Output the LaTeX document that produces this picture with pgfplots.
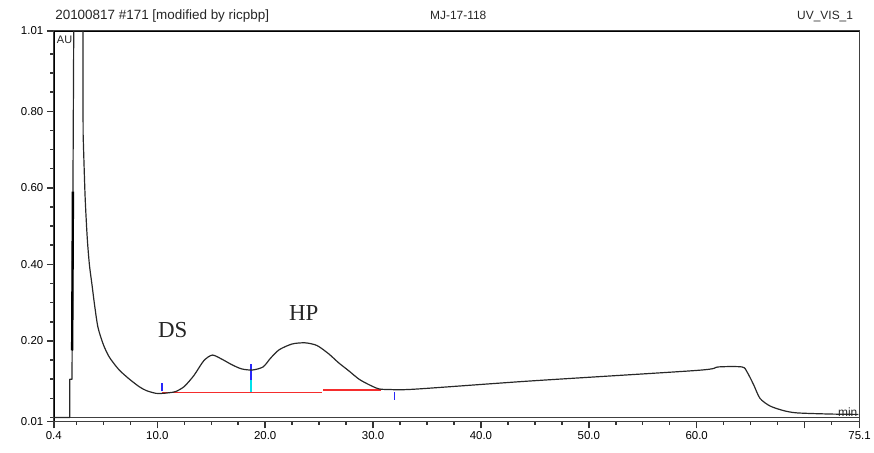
\documentclass[border=0pt]{standalone}
\usepackage{fontspec}
\setmainfont{Liberation Sans}
\newfontfamily\peakfont{Liberation Serif}
\usepackage{pgfplots}
\pgfplotsset{compat=1.18}
\definecolor{trace}{RGB}{40,40,40}
\definecolor{redbase}{RGB}{245,45,45}
\definecolor{mkblue}{RGB}{40,40,250}
\definecolor{mkcyan}{RGB}{0,225,235}
\begin{document}
\begin{tikzpicture}
\begin{axis}[
  scale only axis, width=809pt, height=392pt,
  xmin=0.4, xmax=75.1, ymin=-0.01, ymax=1.01,
  tick align=outside, tick pos=left,
  xtick={0.4,10,20,30,40,50,60,70,75.1},
  xticklabels={0.4,10.0,20.0,30.0,40.0,50.0,60.0,,75.1},
  minor xtick={2.5,5,...,72.5},
  ytick={-0.01,0.2,0.4,0.6,0.8,1.01},
  yticklabels={0.01,0.20,0.40,0.60,0.80,1.01},
  minor ytick={0,0.05,...,0.96},
  major tick length=7pt, minor tick length=3.5pt,
  major tick style={black!80, line width=1.5pt},
  minor tick style={black!80, line width=1.5pt},
  ticklabel style={font=\fontsize{11.5}{12}\selectfont},
  clip mode=individual,
]
\coordinate (sw) at (rel axis cs:0,0);
\coordinate (ne) at (rel axis cs:1,1);
% zero line
\draw[black!75, line width=1pt] (axis cs:0.4,0) -- (axis cs:75.1,0);
% integration baseline
\addplot[redbase, line width=1.8pt] coordinates {(10.4,0.065) (25.3,0.065)};
\addplot[redbase, line width=1.8pt] coordinates {(25.4,0.071) (30.7,0.071)};
% peak delimiters
\addplot[mkblue, line width=1.6pt] coordinates {(10.44,0.068) (10.44,0.089)};
\addplot[mkblue, line width=1.6pt] coordinates {(18.71,0.098) (18.71,0.141)};
\addplot[mkcyan, line width=1.6pt] coordinates {(18.71,0.066) (18.71,0.098)};
\addplot[mkblue, line width=1.6pt] coordinates {(31.98,0.046) (31.98,0.067)};
% signal: injection spike
\addplot[trace, line width=1.2pt, line join=round] coordinates {
(0.4,0.0) (1.88,0.0) (1.88,0.10) (2.09,0.10) (2.25,1.01) (3.1,1.01) (3.12,0.74)
};
% signal: rest of the run
\addplot[trace, line width=1.2pt, smooth, tension=0.45] coordinates {
(3.12,0.74) (3.3,0.58) (3.5,0.47) (3.7,0.40) (3.95,0.345) (4.2,0.29)
(4.5,0.235) (5.0,0.19) (5.5,0.16) (6.0,0.14) (6.5,0.123) (7.0,0.11)
(7.5,0.098) (8.34,0.080) (9.0,0.07) (9.88,0.063) (10.5,0.063) (11.2,0.065)
(11.73,0.068) (12.5,0.081) (13.4,0.11) (14.3,0.148) (15.1,0.163) (16.0,0.152)
(16.9,0.138) (17.8,0.127) (18.8,0.124) (19.8,0.132) (20.5,0.155) (21.3,0.177)
(22.5,0.192) (23.7,0.195) (24.8,0.188) (25.9,0.166) (26.8,0.143) (27.7,0.123)
(28.7,0.10) (29.6,0.086) (30.5,0.075) (31.5,0.073) (33.9,0.074) (44.4,0.095)
(60.05,0.123) (62.0,0.132) (64.2,0.132) (64.67,0.119) (65.29,0.085) (65.87,0.05)
(66.8,0.030) (68.05,0.018) (69.28,0.012) (72.3,0.009) (75.0,0.008)
};
\addplot[black, line width=2.4pt] coordinates {(2.103,0.175) (2.176,0.59)};
% texts
\node[anchor=base west, font=\fontsize{13.5}{14}\selectfont, text=black!85]
  at ([shift={(-2pt,11.5pt)}]rel axis cs:0,1) {20100817 \#171 [modified by ricpbp]};
\node[anchor=base, font=\fontsize{12}{14}\selectfont, text=black!85]
  at ([shift={(0pt,11.5pt)}]rel axis cs:0.502,1) {MJ-17-118};
\node[anchor=base east, font=\fontsize{12}{14}\selectfont, text=black!85]
  at ([shift={(-3pt,11.5pt)}]rel axis cs:1,1) {UV\_VIS\_1};
\node[anchor=north west, inner sep=0pt, font=\fontsize{11}{12}\selectfont, text=black!85]
  at ([shift={(3pt,-5pt)}]rel axis cs:0,1) {AU};
\node[anchor=base east, inner sep=0pt, font=\fontsize{12}{12}\selectfont, text=black!85]
  at ([shift={(-2pt,5pt)}]rel axis cs:1,0) {min};
\node[anchor=base, inner sep=0pt, font=\peakfont\fontsize{23}{24}\selectfont, text=black!85]
  at (axis cs:11.43,0.208) {DS};
\node[anchor=base, inner sep=0pt, font=\peakfont\fontsize{23}{24}\selectfont, text=black!85]
  at (axis cs:23.58,0.254) {HP};
\end{axis}
\draw[black!75, line width=1.2pt] (sw) rectangle (ne);
\path ([shift={(-54pt,-31pt)}]sw) rectangle ([shift={(11pt,31pt)}]ne);
\end{tikzpicture}
\end{document}
